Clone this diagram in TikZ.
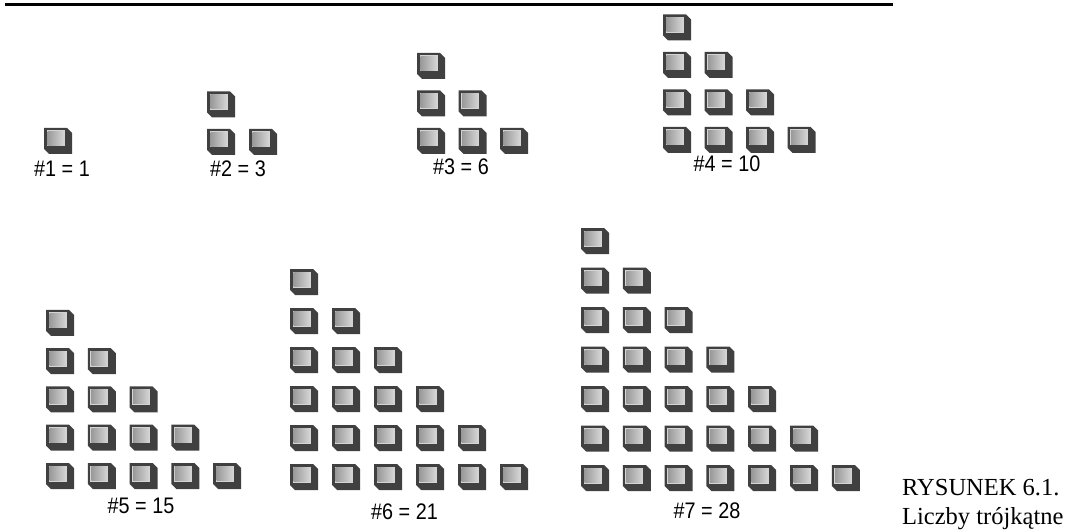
\documentclass[tikz,border=0pt]{standalone}
\usepackage{fontspec}
\setmainfont{Liberation Serif}
\newfontfamily\arialf[FakeStretch=0.88]{Liberation Sans}
\definecolor{cubedark}{HTML}{404040}
\definecolor{cubeedge}{HTML}{D4D4D4}
\definecolor{cubeL}{HTML}{999999}
\definecolor{cubeR}{HTML}{D4D4D4}
\tikzset{
  cube/.pic={
    \fill[cubedark] (0,0) -- (23,0) -- (28,5) -- (28,26) -- (5,26) -- (0,21) -- cycle;
    \fill[cubeedge] (2.5,2.5) rectangle (20.5,18.5);
    \shade[left color=cubeL, right color=cubeR] (3.5,3.5) rectangle (19.5,17.5);
  },
  lbl/.style={font=\arialf\fontsize{22.5}{26}\selectfont, inner sep=0pt},
  captext/.style={font=\fontsize{24.5}{29}\selectfont, inner sep=0pt, anchor=base west}
}
\newcommand\trifig[5]{%
  \foreach \r in {1,...,#3}{%
    \pgfmathtruncatemacro\m{#3-\r+1}%
    \foreach \c in {1,...,\m}{%
      \pic at ({#1+(\c-1)*#4},{#2-(\r-1)*#5}) {cube};
    }%
  }%
}
\begin{document}
\begin{tikzpicture}[x=1pt,y=-1pt]
\useasboundingbox (0,0) rectangle (1068,532);
\draw[line width=3pt] (5,4.5) -- (893,4.5);
% top figures
\trifig{44}{128}{1}{41.8}{38}
\trifig{207}{129}{2}{42}{37.5}
\trifig{417}{128}{3}{41.5}{37.5}
\trifig{663}{127}{4}{41.5}{37.5}
\node[lbl] (t1) at (62,169) {\#1 = 1};
\node[lbl] (t2) at (238,169) {\#2 = 3};
\node[lbl] (t3) at (461,167) {\#3 = 6};
\node[lbl] (t4) at (727,164) {\#4 = 10};
% bottom figures
\trifig{46}{463}{5}{41.8}{38.3}
\trifig{290}{464}{6}{42}{39}
\trifig{581}{465}{7}{41.8}{39.5}
\node[lbl] (t5) at (141,506) {\#5 = 15};
\node[lbl] (t6) at (404.5,511.5) {\#6 = 21};
\node[lbl] (t7) at (707,511) {\#7 = 28};
% caption
\node[captext] (c1) at (902,495) {RYSUNEK 6.1.};
\node[captext] (c2) at (902,524) {Liczby trójkątne};
\end{tikzpicture}
\end{document}
